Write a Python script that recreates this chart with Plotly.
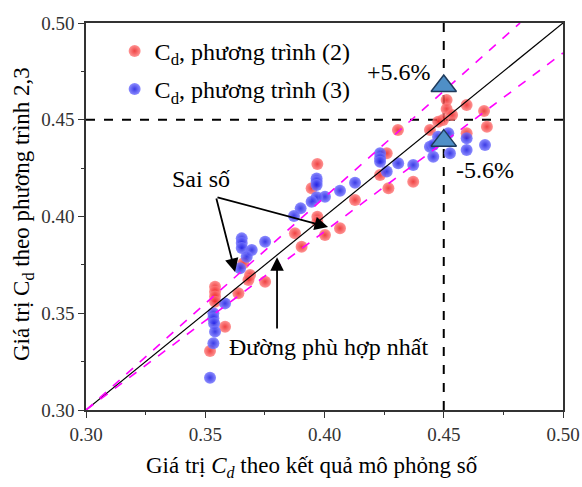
import plotly.graph_objects as go

# Data
blue_x = [0.3653, 0.3653, 0.3653, 0.3751, 0.3695, 0.3674, 0.3646, 0.3583, 0.3534, 0.3534,
          0.3537, 0.3541, 0.3534, 0.3520, 0.3967, 0.3967, 0.3967, 0.4233, 0.4233, 0.4233,
          0.4261, 0.4309, 0.4372, 0.4442, 0.4456, 0.4128, 0.4065, 0.4002, 0.3967, 0.3946,
          0.3900, 0.3872, 0.4519, 0.4476, 0.4596, 0.4673, 0.4456, 0.4526, 0.4596]
blue_y = [0.3887, 0.3863, 0.3837, 0.3870, 0.3827, 0.3792, 0.3732, 0.3551, 0.3500, 0.3474,
          0.3448, 0.3405, 0.3345, 0.3167, 0.4197, 0.4180, 0.4163, 0.4327, 0.4301, 0.4283,
          0.4232, 0.4275, 0.4266, 0.4361, 0.4309, 0.4175, 0.4133, 0.4102, 0.4099, 0.4076,
          0.4042, 0.4003, 0.4430, 0.4412, 0.4404, 0.4370, 0.4370, 0.4327, 0.4344]

red_x = [0.3876, 0.3904, 0.3660, 0.3688, 0.3681, 0.3751, 0.3639, 0.3541, 0.3541, 0.3541,
         0.3541, 0.3583, 0.3520, 0.3970, 0.4261, 0.3946, 0.4233, 0.4268, 0.4372, 0.4128,
         0.3970, 0.3970, 0.4065, 0.4002, 0.4512, 0.4512, 0.4596, 0.4669, 0.4681, 0.4497,
         0.4477, 0.4442, 0.4596, 0.4308, 0.4535]
red_y = [0.3913, 0.3844, 0.3758, 0.3698, 0.3672, 0.3663, 0.3603, 0.3637, 0.3611, 0.3586,
         0.3560, 0.3430, 0.3305, 0.4271, 0.4327, 0.4146, 0.4214, 0.4146, 0.4180, 0.4085,
         0.3999, 0.3973, 0.3939, 0.3904, 0.4602, 0.4556, 0.4576, 0.4545, 0.4464, 0.4499,
         0.4490, 0.4447, 0.4430, 0.4447, 0.4525]

best_fit_x = [0.30, 0.50]
best_fit_y = [0.30, 0.50]
upper_x = [0.30, 0.482]
upper_y = [0.30, 0.50]
lower_x = [0.30, 0.50]
lower_y = [0.30, 0.4845]
ref_value = 0.45
tri_x = [0.45, 0.45]
tri_y = [0.4674, 0.4392]

x_ticks = [0.30, 0.35, 0.40, 0.45, 0.50]
y_ticks = [0.30, 0.35, 0.40, 0.45, 0.50]

FONT = "Liberation Serif, Times New Roman, serif"

fig = go.Figure()

# reference dashed lines
fig.add_trace(go.Scatter(x=[ref_value, ref_value], y=[0.30, 0.50], mode="lines",
                         line=dict(color="black", width=2, dash="dash"), showlegend=False, hoverinfo="skip"))
fig.add_trace(go.Scatter(x=[0.30, 0.50], y=[ref_value, ref_value], mode="lines",
                         line=dict(color="black", width=2, dash="dash"), showlegend=False, hoverinfo="skip"))

# data points
fig.add_trace(go.Scatter(x=red_x, y=red_y, mode="markers", name="C<sub>d</sub>, phương trình (2)",
                         legendgroup="a",
                         marker=dict(size=12, color="rgba(255,125,125,0.82)",
                                     gradient=dict(type="radial", color="rgba(235,25,25,0.82)"),
                                     line=dict(width=0))))
fig.add_trace(go.Scatter(x=blue_x, y=blue_y, mode="markers", name="C<sub>d</sub>, phương trình (3)",
                         legendgroup="b",
                         marker=dict(size=12, color="rgba(120,120,255,0.85)",
                                     gradient=dict(type="radial", color="rgba(25,25,225,0.85)"),
                                     line=dict(width=0))))

# lines
fig.add_trace(go.Scatter(x=best_fit_x, y=best_fit_y, mode="lines",
                         line=dict(color="black", width=1.2), showlegend=False, hoverinfo="skip"))
fig.add_trace(go.Scatter(x=upper_x, y=upper_y, mode="lines",
                         line=dict(color="#ff00ff", width=1.6, dash="dash"), showlegend=False, hoverinfo="skip"))
fig.add_trace(go.Scatter(x=lower_x, y=lower_y, mode="lines",
                         line=dict(color="#ff00ff", width=1.6, dash="dash"), showlegend=False, hoverinfo="skip"))

# triangles
fig.add_trace(go.Scatter(x=tri_x, y=tri_y, mode="markers", showlegend=False,
                         marker=dict(symbol="triangle-up", size=22, color="#4f8fc7",
                                     line=dict(color="#1f3b5c", width=1.5))))

ann_font = dict(family=FONT, size=24, color="black")
annotations = [
    dict(x=0.4312, y=0.4747, xref="x", yref="y", text="+5.6%", showarrow=False, font=ann_font),
    dict(x=0.4673, y=0.4240, xref="x", yref="y", text="-5.6%", showarrow=False, font=ann_font),
    dict(x=0.3484, y=0.4194, xref="x", yref="y", text="Sai số", showarrow=False, font=ann_font),
    dict(x=0.4017, y=0.3326, xref="x", yref="y", text="Đường phù hợp nhất", showarrow=False, font=ann_font),
    dict(x=0.3625, y=0.3713, ax=0.3545, ay=0.4101, xref="x", yref="y", axref="x", ayref="y",
         text="", showarrow=True, arrowhead=2, arrowsize=1.5, arrowwidth=1.8, arrowcolor="black"),
    dict(x=0.4015, y=0.3946, ax=0.3545, ay=0.4101, xref="x", yref="y", axref="x", ayref="y",
         text="", showarrow=True, arrowhead=2, arrowsize=1.5, arrowwidth=1.8, arrowcolor="black"),
    dict(x=0.3801, y=0.3790, ax=0.3801, ay=0.3413, xref="x", yref="y", axref="x", ayref="y",
         text="", showarrow=True, arrowhead=2, arrowsize=1.5, arrowwidth=1.8, arrowcolor="black"),
    # axis titles
    dict(x=0.473, y=-0.147, xref="paper", yref="paper", xanchor="center", yanchor="middle",
         text="Giá trị <i>C<sub>d</sub></i> theo kết quả mô phỏng số", showarrow=False,
         font=dict(family=FONT, size=23, color="black")),
    dict(x=-0.133, y=0.505, xref="paper", yref="paper", xanchor="center", yanchor="middle",
         text="Giá trị C<sub>d</sub> theo phương trình 2,3", showarrow=False, textangle=-90,
         font=dict(family=FONT, size=23, color="black")),
]

axis_common = dict(range=[0.30, 0.50], showgrid=False, zeroline=False, showline=True,
                   linecolor="#333333", linewidth=1.5, mirror=True, ticks="outside", ticklen=6,
                   tickwidth=1.2, tickcolor="#333333", tickformat=".2f", automargin=False,
                   tickfont=dict(family=FONT, size=19, color="#333333"),
                   minor=dict(ticks="outside", ticklen=3, tickcolor="#333333", dtick=0.025))

fig.update_layout(
    width=582, height=487,
    margin=dict(l=86, r=19, t=23, b=77),
    plot_bgcolor="white", paper_bgcolor="white",
    font=dict(family=FONT, color="black"),
    xaxis=dict(**axis_common, tickvals=x_ticks),
    yaxis=dict(**axis_common, tickvals=y_ticks),
    legend=dict(x=0.06, y=0.985, xanchor="left", yanchor="top", bgcolor="rgba(0,0,0,0)",
                font=dict(family=FONT, size=24), tracegroupgap=4, traceorder="grouped",
                itemwidth=30),
    annotations=annotations,
)

# remove the default 8 px page margin so the 582x487 figure fills the window exactly
fig.write_html("out.html", config={"displayModeBar": False},
               post_script="document.body.style.margin='0';document.body.style.overflow='hidden';")
